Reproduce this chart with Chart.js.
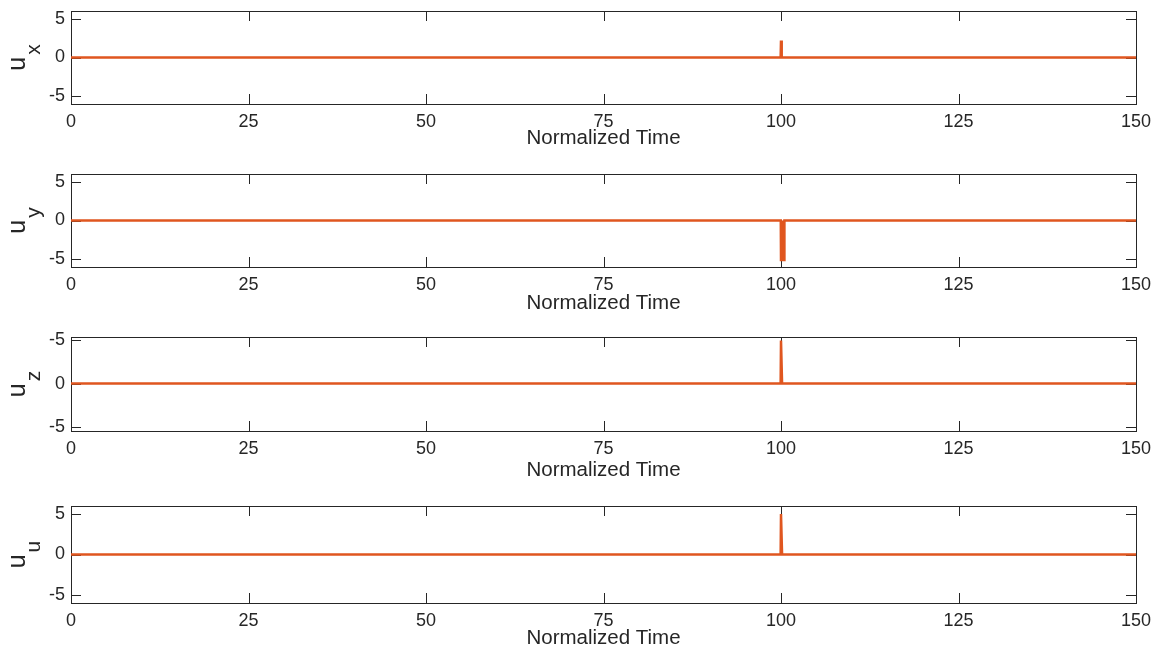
<!DOCTYPE html>
<html>
<head>
<meta charset="utf-8">
<script src="https://cdn.jsdelivr.net/npm/chart.js@4"></script>
<style>
  body { margin: 0; background: #fff; }
  #wrap { position: relative; width: 1159px; height: 652px; overflow: hidden; }
  .panel { position: absolute; left: 0; width: 1159px; }
</style>
</head>
<body>
<div id="wrap"></div>
<script>
// values
const xTicks = [0, 25, 50, 75, 100, 125, 150];
const yTicks = [-5, 0, 5];
const yTickLabels = ['-5', '0', '5'];
const yTickLabelsZ = ['-5', '0', '-5'];

const timeX = [0, 99.95, 100, 100.1, 100.2, 150];
const ux = [0, 0, 2.2, 0.1, 0, 0];

// u_y oscillates fast between 0 and -5 right after t = 100, seen as a solid block
const timeY = [0, 99.97, 100, 100.45, 100.48, 150];
const uy = [0, 0, -5.1, -5.1, 0, 0];

const timeZ = [0, 99.95, 100, 100.15, 150];
const uz = [0, 0, 4.9, 0, 0];

const timeU = [0, 99.95, 100, 100.15, 150];
const uu = [0, 0, 5, 0, 0];

const panels = [
  { sub: 'x', t: timeX, v: ux, min: -6, max: 6, labels: yTickLabels, top: 8, bottom: 104, titleGap: 34, fill: false },
  { sub: 'y', t: timeY, v: uy, min: -6, max: 6, labels: yTickLabels, top: 171, bottom: 267, titleGap: 36, fill: 'origin' },
  { sub: 'z', t: timeZ, v: uz, min: -5.4, max: 5.3, labels: yTickLabelsZ, top: 334, bottom: 431, titleGap: 39, fill: false },
  { sub: 'u', t: timeU, v: uu, min: -6, max: 6, labels: yTickLabels, top: 503, bottom: 603, titleGap: 35, fill: false }
];

const ink = '#262626';
const orange = '#E0561F';
const font = '"Liberation Sans", Arial, sans-serif';
const PAD_TOP = 12;
const AXIS_H = 50;
const TITLE_SIZE = 20.5;

// box with inward ticks (under the line) and the rotated u_sub label
const frame = {
  id: 'frame',
  beforeDatasetsDraw(chart) {
    const ctx = chart.ctx;
    const a = chart.chartArea;
    const xs = chart.scales.x, ys = chart.scales.y;
    ctx.save();
    ctx.strokeStyle = ink;
    ctx.lineWidth = 1;
    ctx.strokeRect(Math.round(a.left) + 0.5, Math.round(a.top) + 0.5,
      Math.round(a.right - a.left), Math.round(a.bottom - a.top));
    ctx.beginPath();
    xTicks.forEach(v => {
      const px = Math.round(xs.getPixelForValue(v)) + 0.5;
      ctx.moveTo(px, a.bottom); ctx.lineTo(px, a.bottom - 10);
      ctx.moveTo(px, a.top); ctx.lineTo(px, a.top + 10);
    });
    yTicks.forEach(v => {
      const py = Math.round(ys.getPixelForValue(v)) + 0.5;
      ctx.moveTo(a.left, py); ctx.lineTo(a.left + 10, py);
      ctx.moveTo(a.right, py); ctx.lineTo(a.right - 10, py);
    });
    ctx.stroke();
    ctx.restore();
  },
  afterDraw(chart, args, opts) {
    const ctx = chart.ctx;
    const a = chart.chartArea;
    const cy = (a.top + a.bottom) / 2;
    ctx.save();
    ctx.fillStyle = ink;
    ctx.translate(0, cy);
    ctx.rotate(-Math.PI / 2);
    ctx.textBaseline = 'alphabetic';
    ctx.textAlign = 'left';
    ctx.font = '25px ' + font;
    const wu = ctx.measureText('u').width;
    ctx.font = '21px ' + font;
    const ws = ctx.measureText(opts.sub).width;
    const start = -(wu + 2 + ws) / 2;
    ctx.font = '25px ' + font;
    ctx.fillText('u', start, 25);
    ctx.font = '21px ' + font;
    ctx.fillText(opts.sub, start + wu + 2, 40);
    ctx.restore();
  }
};

const wrap = document.getElementById('wrap');

panels.forEach(p => {
  const div = document.createElement('div');
  div.className = 'panel';
  div.style.top = (p.top - PAD_TOP) + 'px';
  div.style.height = (p.bottom - p.top + PAD_TOP + AXIS_H) + 'px';
  const canvas = document.createElement('canvas');
  div.appendChild(canvas);
  wrap.appendChild(div);

  new Chart(canvas, {
    type: 'line',
    data: {
      datasets: [{
        data: p.t.map((t, i) => ({ x: t, y: p.v[i] })),
        borderColor: orange,
        backgroundColor: orange,
        borderWidth: 2.5,
        pointRadius: 0,
        tension: 0,
        fill: p.fill
      }]
    },
    options: {
      responsive: true,
      maintainAspectRatio: false,
      animation: false,
      events: [],
      layout: { padding: { top: PAD_TOP, left: 0, right: 23, bottom: 0 } },
      scales: {
        x: {
          type: 'linear',
          min: 0,
          max: 150,
          afterBuildTicks: s => { s.ticks = xTicks.map(v => ({ value: v })); },
          afterFit: s => { s.height = AXIS_H; s.paddingLeft = 0; s.paddingRight = 0; },
          grid: { display: false, drawTicks: false },
          border: { display: false },
          ticks: {
            padding: 9,
            color: ink,
            maxRotation: 0,
            font: { family: font, size: 18, lineHeight: 1 }
          },
          title: {
            display: true,
            text: 'Normalized Time',
            color: ink,
            padding: { top: 0, bottom: AXIS_H - TITLE_SIZE / 2 - p.titleGap },
            font: { family: font, size: TITLE_SIZE, lineHeight: 1 }
          }
        },
        y: {
          min: p.min,
          max: p.max,
          afterBuildTicks: s => { s.ticks = yTicks.map(v => ({ value: v })); },
          afterFit: s => { s.width = 71; },
          grid: { display: false, drawTicks: false },
          border: { display: false },
          ticks: {
            padding: 6,
            color: ink,
            callback: (v, i) => p.labels[i],
            font: { family: font, size: 18, lineHeight: 1 }
          }
        }
      },
      plugins: {
        legend: { display: false },
        tooltip: { enabled: false },
        filler: { propagate: false },
        frame: { sub: p.sub }
      }
    },
    plugins: [frame]
  });
});
</script>
</body>
</html>
